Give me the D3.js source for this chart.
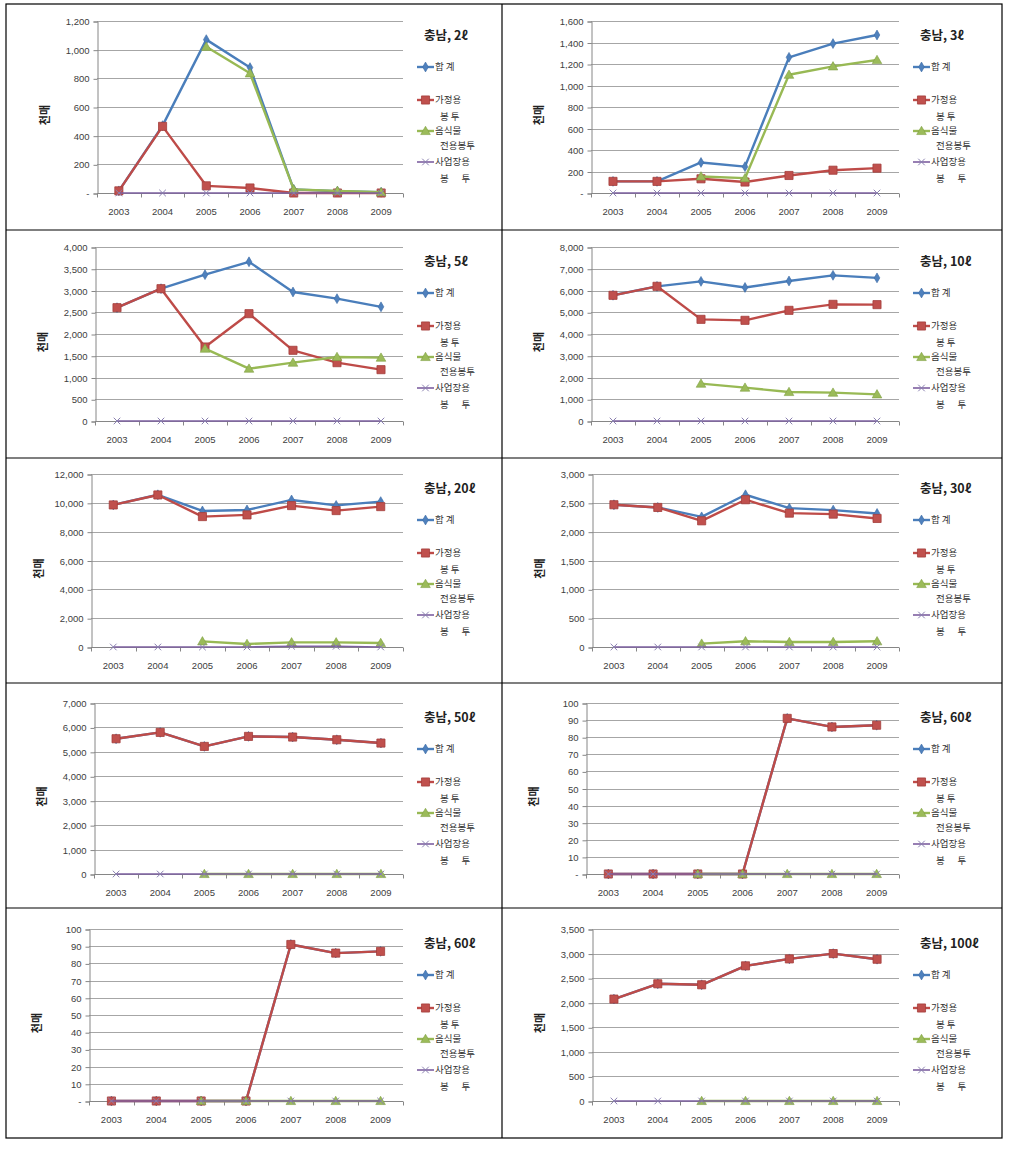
<!DOCTYPE html>
<html>
<head>
<meta charset="utf-8">
<script src="https://cdn.jsdelivr.net/npm/d3@7"></script>
<style>
  html, body { margin: 0; padding: 0; background: #fff; }
  svg { display: block; }
  text { font-family: "Liberation Sans", Arial, sans-serif; }
  .kr { font-family: "Noto Sans CJK KR", "Noto Sans", sans-serif; }
</style>
</head>
<body>
<svg id="chart" width="1013" height="1149"></svg>
<script>
// ---------- data ----------
const years = ["2003", "2004", "2005", "2006", "2007", "2008", "2009"];
const seriesNames = ["합 계", "가정용 봉 투", "음식물 전용봉투", "사업장용 봉 투"];
const legendLines = [["합 계"], ["가정용", "봉 투"], ["음식물", "전용봉투"], ["사업장용", "봉      투"]];
const panelTitles = ["충남, 2ℓ", "충남, 3ℓ", "충남, 5ℓ", "충남, 10ℓ", "충남, 20ℓ", "충남, 30ℓ", "충남, 50ℓ", "충남, 60ℓ", "충남, 60ℓ", "충남, 100ℓ"];
const yMaxes = [1200, 1600, 4000, 8000, 12000, 3000, 7000, 100, 100, 3500];
const yTickSteps = [200, 200, 500, 1000, 2000, 500, 1000, 10, 10, 500];
const zeroAsDash = [true, true, false, false, false, false, false, true, true, false];
const yAxisLabel = "천매";

// 2ℓ
const total_2 = [15, 470, 1070, 875, 25, 12, 5];
const household_2 = [15, 465, 50, 35, 0, 0, 0];
const food_2 = [null, null, 1020, 835, 25, 15, 5];
const business_2 = [0, 0, 0, 0, 0, 0, 0];
// 3ℓ
const total_3 = [108, 108, 284, 245, 1262, 1390, 1470];
const household_3 = [108, 108, 132, 102, 163, 212, 231];
const food_3 = [null, null, 154, 138, 1100, 1178, 1237];
const business_3 = [0, 0, 0, 0, 0, 0, 0];
// 5ℓ
const total_5 = [2605, 3042, 3364, 3660, 2966, 2812, 2625];
const household_5 = [2605, 3042, 1701, 2467, 1625, 1341, 1180];
const food_5 = [null, null, 1663, 1203, 1341, 1471, 1456];
const business_5 = [0, 0, 0, 0, 0, 0, 0];
// 10ℓ
const total_10 = [5780, 6190, 6420, 6140, 6437, 6697, 6580];
const household_10 = [5778, 6192, 4674, 4628, 5088, 5364, 5350];
const food_10 = [null, null, 1716, 1533, 1333, 1303, 1226];
const business_10 = [0, 0, 0, 0, 0, 0, 0];
// 20ℓ
const total_20 = [9854, 10560, 9438, 9508, 10200, 9820, 10085];
const household_20 = [9854, 10546, 9046, 9162, 9808, 9462, 9738];
const food_20 = [null, null, 392, 208, 323, 323, 277];
const business_20 = [0, 0, 0, 0, 50, 50, 0];
// 30ℓ
const total_30 = [2467, 2420, 2257, 2640, 2408, 2374, 2316];
const household_30 = [2467, 2420, 2188, 2554, 2321, 2304, 2229];
const food_30 = [null, null, 58, 99, 87, 87, 99];
const business_30 = [0, 0, 0, 0, 0, 0, 0];
// 50ℓ
const total_50 = [5537, 5797, 5223, 5633, 5606, 5496, 5360];
const household_50 = [5537, 5797, 5223, 5633, 5606, 5496, 5360];
const food_50 = [null, null, 0, 0, 0, 0, 0];
const business_50 = [0, 0, 0, 0, 0, 0, 0];
// 60ℓ
const total_60 = [0, 0, 0, 0, 91, 86, 87];
const household_60 = [0, 0, 0, 0, 91, 86, 87];
const food_60 = [null, null, 0, 0, 0, 0, 0];
const business_60 = [0, 0, 0, 0, 0, 0, 0];
// 100ℓ
const total_100 = [2074, 2385, 2365, 2750, 2892, 3000, 2885];
const household_100 = [2074, 2385, 2365, 2750, 2892, 3000, 2885];
const food_100 = [null, null, 0, 0, 0, 0, 0];
const business_100 = [0, 0, 0, 0, 0, 0, 0];

const panelSeries = [
  [total_2, household_2, food_2, business_2],
  [total_3, household_3, food_3, business_3],
  [total_5, household_5, food_5, business_5],
  [total_10, household_10, food_10, business_10],
  [total_20, household_20, food_20, business_20],
  [total_30, household_30, food_30, business_30],
  [total_50, household_50, food_50, business_50],
  [total_60, household_60, food_60, business_60],
  [total_60, household_60, food_60, business_60],
  [total_100, household_100, food_100, business_100]
];

// ---------- styling / layout ----------
const lineColors = ["#4A7EBB", "#BE4B48", "#98B954", "#7D60A0"];
const markerFill = ["#4F81BD", "#C0504D", "#9BBB59", "#8064A2"];
const markerStroke = ["#3A6AA5", "#A33E3B", "#7FA043", "#8A80B0"];

const tableLeft = 6, tableRight = 1002, tableMid = 502;
const rowEdges = [4, 230, 458, 683, 908, 1138];
const plotTopRel = [17, 17, 16, 20, 21];
const plotBottomRel = [189, 191, 189, 191, 193];
const plotLeftRel = [91, 89, 89, 89, 85, 90, 88, 84, 83, 90];
const plotRightRel = 397;

const svg = d3.select("#chart");
svg.append("rect").attr("width", 1013).attr("height", 1149).attr("fill", "#fff");

function drawMarker(g, si, x, y) {
  if (si === 0) {
    g.append("path").attr("d", d3.symbol(d3.symbolDiamond, 28)())
      .attr("transform", `translate(${x},${y})`)
      .attr("fill", markerFill[0]).attr("stroke", markerStroke[0]).attr("stroke-width", 0.6);
  } else if (si === 1) {
    g.append("path").attr("d", d3.symbol(d3.symbolSquare, 66)())
      .attr("transform", `translate(${x},${y})`)
      .attr("fill", markerFill[1]).attr("stroke", markerStroke[1]).attr("stroke-width", 0.8);
  } else if (si === 2) {
    g.append("path").attr("d", d3.symbol(d3.symbolTriangle, 40)())
      .attr("transform", `translate(${x},${y + 0.8})`)
      .attr("fill", markerFill[2]).attr("stroke", markerStroke[2]).attr("stroke-width", 0.6);
  } else {
    g.append("path").attr("d", d3.symbol(d3.symbolX, 30)())
      .attr("transform", `translate(${x},${y})`)
      .attr("fill", "none").attr("stroke", markerStroke[3]).attr("stroke-width", 1);
  }
}

panelSeries.forEach((series, p) => {
  const row = Math.floor(p / 2), col = p % 2;
  const cx = col === 0 ? tableLeft : tableMid;
  const cy = rowEdges[row];
  const g = svg.append("g").attr("transform", `translate(${cx},${cy})`);

  const left = plotLeftRel[p], right = plotRightRel;
  const top = plotTopRel[row], bottom = plotBottomRel[row];

  const x = d3.scaleBand().domain(years).range([left, right]);
  const y = d3.scaleLinear().domain([0, yMaxes[p]]).range([bottom, top]);
  const ticks = d3.range(0, yMaxes[p] + 1e-9, yTickSteps[p]);
  const fmt = d3.format(",");
  const yFmt = v => (v === 0 && zeroAsDash[p]) ? "-" : fmt(v);

  // gridlines
  g.append("g").selectAll("line").data(ticks.filter(t => t > 0)).join("line")
    .attr("x1", left).attr("x2", right)
    .attr("y1", d => Math.round(y(d)) + 0.5).attr("y2", d => Math.round(y(d)) + 0.5)
    .attr("stroke", "#A6A6A6").attr("stroke-width", 1);

  // y axis
  const yAxis = d3.axisLeft(y).tickValues(ticks).tickFormat(yFmt).tickSize(4).tickPadding(4);
  const ya = g.append("g").attr("transform", `translate(${left + 0.5},0.5)`).call(yAxis);
  ya.select(".domain").attr("stroke", "#868686");
  ya.selectAll(".tick line").attr("stroke", "#868686");
  ya.selectAll(".tick text").attr("font-size", 9.5).attr("fill", "#404040")
    .attr("font-family", "Liberation Sans, Arial, sans-serif");

  // x axis (ticks at band boundaries)
  const xa = g.append("g").attr("transform", `translate(0,${Math.round(bottom) + 0.5})`);
  xa.append("line").attr("x1", left).attr("x2", right).attr("stroke", "#868686");
  const edges = years.map(yr => x(yr)).concat([x(years[years.length - 1]) + x.bandwidth()]);
  xa.selectAll("line.tk").data(edges).join("line").attr("class", "tk")
    .attr("x1", d => Math.round(d) + 0.5).attr("x2", d => Math.round(d) + 0.5)
    .attr("y1", 0).attr("y2", 4).attr("stroke", "#868686");
  xa.selectAll("text").data(years).join("text")
    .attr("x", d => x(d) + x.bandwidth() / 2).attr("y", 19)
    .attr("text-anchor", "middle").attr("dominant-baseline", "middle")
    .attr("font-size", 9.5).attr("fill", "#404040").text(d => d);

  // y axis label
  g.append("text").attr("class", "kr")
    .attr("transform", `translate(${left - 51},${(top + bottom) / 2 + 8}) rotate(-90)`)
    .attr("text-anchor", "middle").attr("dominant-baseline", "middle")
    .attr("font-size", 11).attr("font-weight", "bold").attr("fill", "#222")
    .text(yAxisLabel);

  // series lines and markers
  series.forEach((vals, si) => {
    const pts = years.map((yr, i) => ({ yr, v: vals[i] }));
    const line = d3.line()
      .defined(d => d.v !== null)
      .x(d => x(d.yr) + x.bandwidth() / 2)
      .y(d => y(d.v));
    g.append("path").datum(pts).attr("d", line)
      .attr("fill", "none").attr("stroke", lineColors[si])
      .attr("stroke-width", si === 3 ? 1.6 : 2.4).attr("stroke-linejoin", "round");
    const mg = g.append("g");
    pts.filter(d => d.v !== null).forEach(d => {
      drawMarker(mg, si, x(d.yr) + x.bandwidth() / 2, y(d.v));
    });
  });

  // title
  g.append("text").attr("class", "kr")
    .attr("x", 418).attr("y", top + 16)
    .attr("dominant-baseline", "middle")
    .attr("font-size", 12.5).attr("font-weight", "bold").attr("fill", "#222")
    .text(panelTitles[p]);

  // legend
  const entryY = [top + 46, top + 79, top + 110, top + 141];
  const secondLineGap = [0, 17, 15, 17];
  legendLines.forEach((lines, si) => {
    const ly = entryY[si];
    g.append("line").attr("x1", 411).attr("x2", 428).attr("y1", ly).attr("y2", ly)
      .attr("stroke", lineColors[si]).attr("stroke-width", si === 3 ? 1.6 : 2.4);
    drawMarker(g, si, 419.5, ly);
    lines.forEach((t, k) => {
      g.append("text").attr("class", "kr")
        .attr("x", k === 0 ? 429 : 434).attr("y", ly + k * secondLineGap[si])
        .attr("dominant-baseline", "middle")
        .attr("font-size", 9.5).attr("fill", "#333")
        .style("white-space", "pre")
        .text(t);
    });
  });
});

// table borders
const border = svg.append("g").attr("stroke", "#000").attr("stroke-width", 1.2).attr("fill", "none");
border.append("rect").attr("x", tableLeft).attr("y", rowEdges[0])
  .attr("width", tableRight - tableLeft).attr("height", rowEdges[5] - rowEdges[0]);
border.append("line").attr("x1", tableMid).attr("x2", tableMid).attr("y1", rowEdges[0]).attr("y2", rowEdges[5]);
rowEdges.slice(1, 5).forEach(ry => {
  border.append("line").attr("x1", tableLeft).attr("x2", tableRight).attr("y1", ry).attr("y2", ry);
});
</script>
</body>
</html>
